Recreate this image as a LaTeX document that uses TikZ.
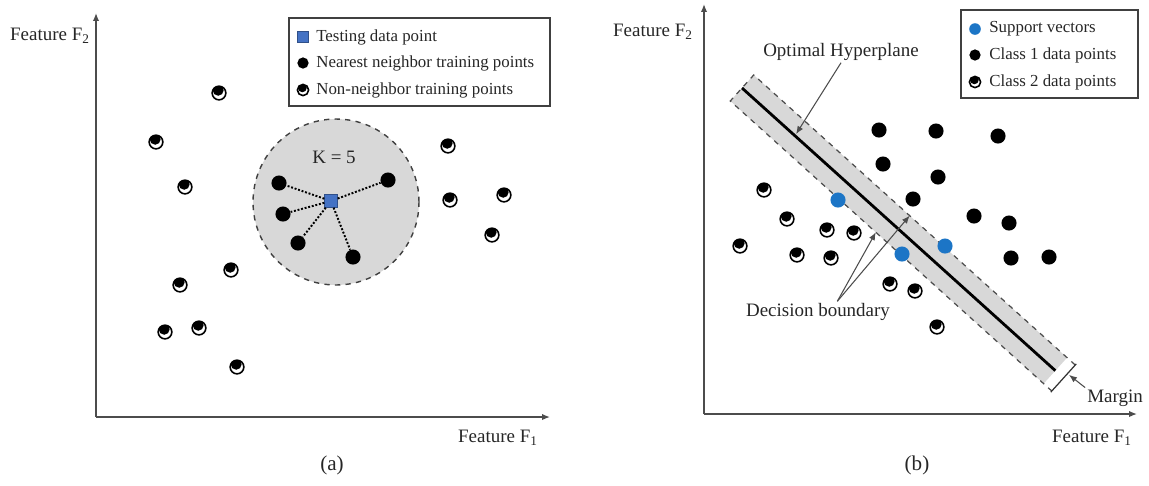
\documentclass[tikz,border=0pt]{standalone}
\usepackage{fontspec}
\setmainfont{Liberation Serif}
\usetikzlibrary{arrows.meta}

\definecolor{testblue}{RGB}{68,114,196}
\definecolor{svblue}{RGB}{28,117,198}
\definecolor{zone}{RGB}{216,216,216}

\begin{document}
\begin{tikzpicture}[x=0.02cm,y=-0.02cm,
  >={Latex[length=4.5pt,width=3.6pt]},
  axis/.style={->,black!70,line width=0.8pt},
  pt/.style={circle,fill=black,minimum size=#1,inner sep=0pt},
  pt/.default=8.6pt,
  sv/.style={pt=#1,fill=svblue},
  sv/.default=8.6pt,
  nn/.style={circle,draw=black,line width=0.9pt,fill=white,minimum size=#1,inner sep=0pt,
    path picture={\fill[black] ([shift={(-0.06*#1,0.2*#1)}]path picture bounding box.center)
      circle [radius=0.4*#1];}},
  nn/.default=7.8pt,
  tq/.style={rectangle,fill=testblue,draw=testblue!70!black,line width=0.4pt,minimum size=#1,inner sep=0pt},
  tq/.default=7.2pt,
  kzone/.style={circle,fill=zone,draw=black!75,dashed,line width=0.8pt,inner sep=0pt},
  legbox/.style={draw=black!75,line width=0.8pt},
  lbl/.style={font=\fontsize{10.8}{13}\selectfont,text=black!85,inner sep=1pt},
  ltx/.style={anchor=west,font=\fontsize{9.6}{11}\selectfont,text=black!85,inner sep=0pt},
  subcap/.style={font=\fontsize{12}{14}\selectfont,text=black!85},
  knn/.style={densely dotted,line width=1.1pt},
  note/.style={->,black!70,line width=0.6pt}]

  \useasboundingbox (0,0) rectangle (1149,485);

  % (a) k nearest neighbours
  \begin{scope}
    \coordinate (o1) at (96,417);
    \coordinate (y1) at (96,13);
    \coordinate (x1) at (550,417);
    \draw[axis] (o1) -- (y1);
    \draw[axis] (o1) -- (x1);
    \node[lbl] (f2a) at (50,36) {Feature F\textsubscript{2}};
    \node[lbl] (f1a) at (498,438) {Feature F\textsubscript{1}};
    \node[subcap] (capa) at (332,465) {(a)};

    \node[kzone,minimum size=3.32cm] (kc) at (336,202) {};
    \node[lbl] (k) at (334,157) {K = 5};
    \node[tq] (q) at (331,201) {};
    \foreach \p [count=\i] in {(279,183),(388,180),(283,214),(298,243),(353,257)}
      \node[pt] (n\i) at \p {};
    \foreach \i in {1,...,5}
      \draw[knn] (q) -- (n\i);

    \foreach \p [count=\i] in {(219,93),(156,142),(185,187),(448,146),(450,200),(504,195),
        (492,235),(231,270),(180,285),(165,332),(199,328),(237,367)}
      \node[nn] (r\i) at \p {};

    \draw[legbox] (289,18) rectangle (550,106);
    \node[tq=6pt] (lq) at (303,37) {};
    \node[ltx] (lqt) at (316,37) {Testing data point};
    \node[pt=6.4pt] (ln) at (303,63) {};
    \node[ltx] (lnt) at (316,63) {Nearest neighbor training points};
    \node[nn=6.4pt] (lr) at (303,90) {};
    \node[ltx] (lrt) at (316,90) {Non-neighbor training points};
  \end{scope}

  % (b) support vector machine
  \begin{scope}
    \coordinate (o2) at (704,414);
    \coordinate (y2) at (704,4);
    \coordinate (x2) at (1137,414);
    \draw[axis] (o2) -- (y2);
    \draw[axis] (o2) -- (x2);
    \node[lbl] (f2b) at (653,32) {Feature F\textsubscript{2}};
    \node[lbl] (f1b) at (1092,438) {Feature F\textsubscript{1}};
    \node[subcap] (capb) at (917,465) {(b)};

    % margin band around the hyperplane
    \begin{scope}[shift={(742,88)},rotate=-42.05]
      \fill[zone] (0,-17.5) rectangle (422,17.5);
      \draw[dashed,black!70,line width=0.7pt] (433,-17.5) -- (0,-17.5) -- (0,17.5) -- (433,17.5);
      \draw[black!80,line width=0.7pt] (433,-19) -- (433,19);
      \draw[line width=1.6pt] (0,0) -- (422,0);
      \coordinate (hp) at (71,-2);
      \coordinate (db1) at (196,17.5);
      \coordinate (db2) at (210,-17.5);
      \coordinate (mg) at (435,-6);
    \end{scope}

    \foreach \p [count=\i] in {(879,130),(936,131),(998,136),(883,164),(938,177),(913,199),
        (974,216),(1009,223),(1011,258),(1049,257)}
      \node[pt] (c\i) at \p {};
    \foreach \p [count=\i] in {(764,190),(787,219),(827,230),(854,233),(740,246),(797,255),
        (831,258),(890,284),(915,291),(937,327)}
      \node[nn] (d\i) at \p {};
    \foreach \p [count=\i] in {(838,200),(902,254),(945,246)}
      \node[sv] (s\i) at \p {};

    \node[lbl] (hpt) at (841,52) {Optimal Hyperplane};
    \draw[note] (hpt.south) -- (hp);
    \node[lbl] (dbt) at (818,312) {Decision boundary};
    \draw[note] ([xshift=11pt]dbt.north) -- (db1);
    \draw[note] ([xshift=11pt]dbt.north) -- (db2);
    \node[lbl] (mgt) at (1115,398) {Margin};
    \draw[note] (mgt.north west) -- (mg);

    \draw[legbox] (961,10) rectangle (1138,98);
    \node[sv=6.6pt] (ls) at (975,29) {};
    \node[ltx] (lst) at (989,29) {Support vectors};
    \node[pt=6.4pt] (lc) at (975,55) {};
    \node[ltx] (lct) at (989,55) {Class 1 data points};
    \node[nn=6.4pt] (ld) at (975,82) {};
    \node[ltx] (ldt) at (989,82) {Class 2 data points};
  \end{scope}
\end{tikzpicture}
\end{document}
